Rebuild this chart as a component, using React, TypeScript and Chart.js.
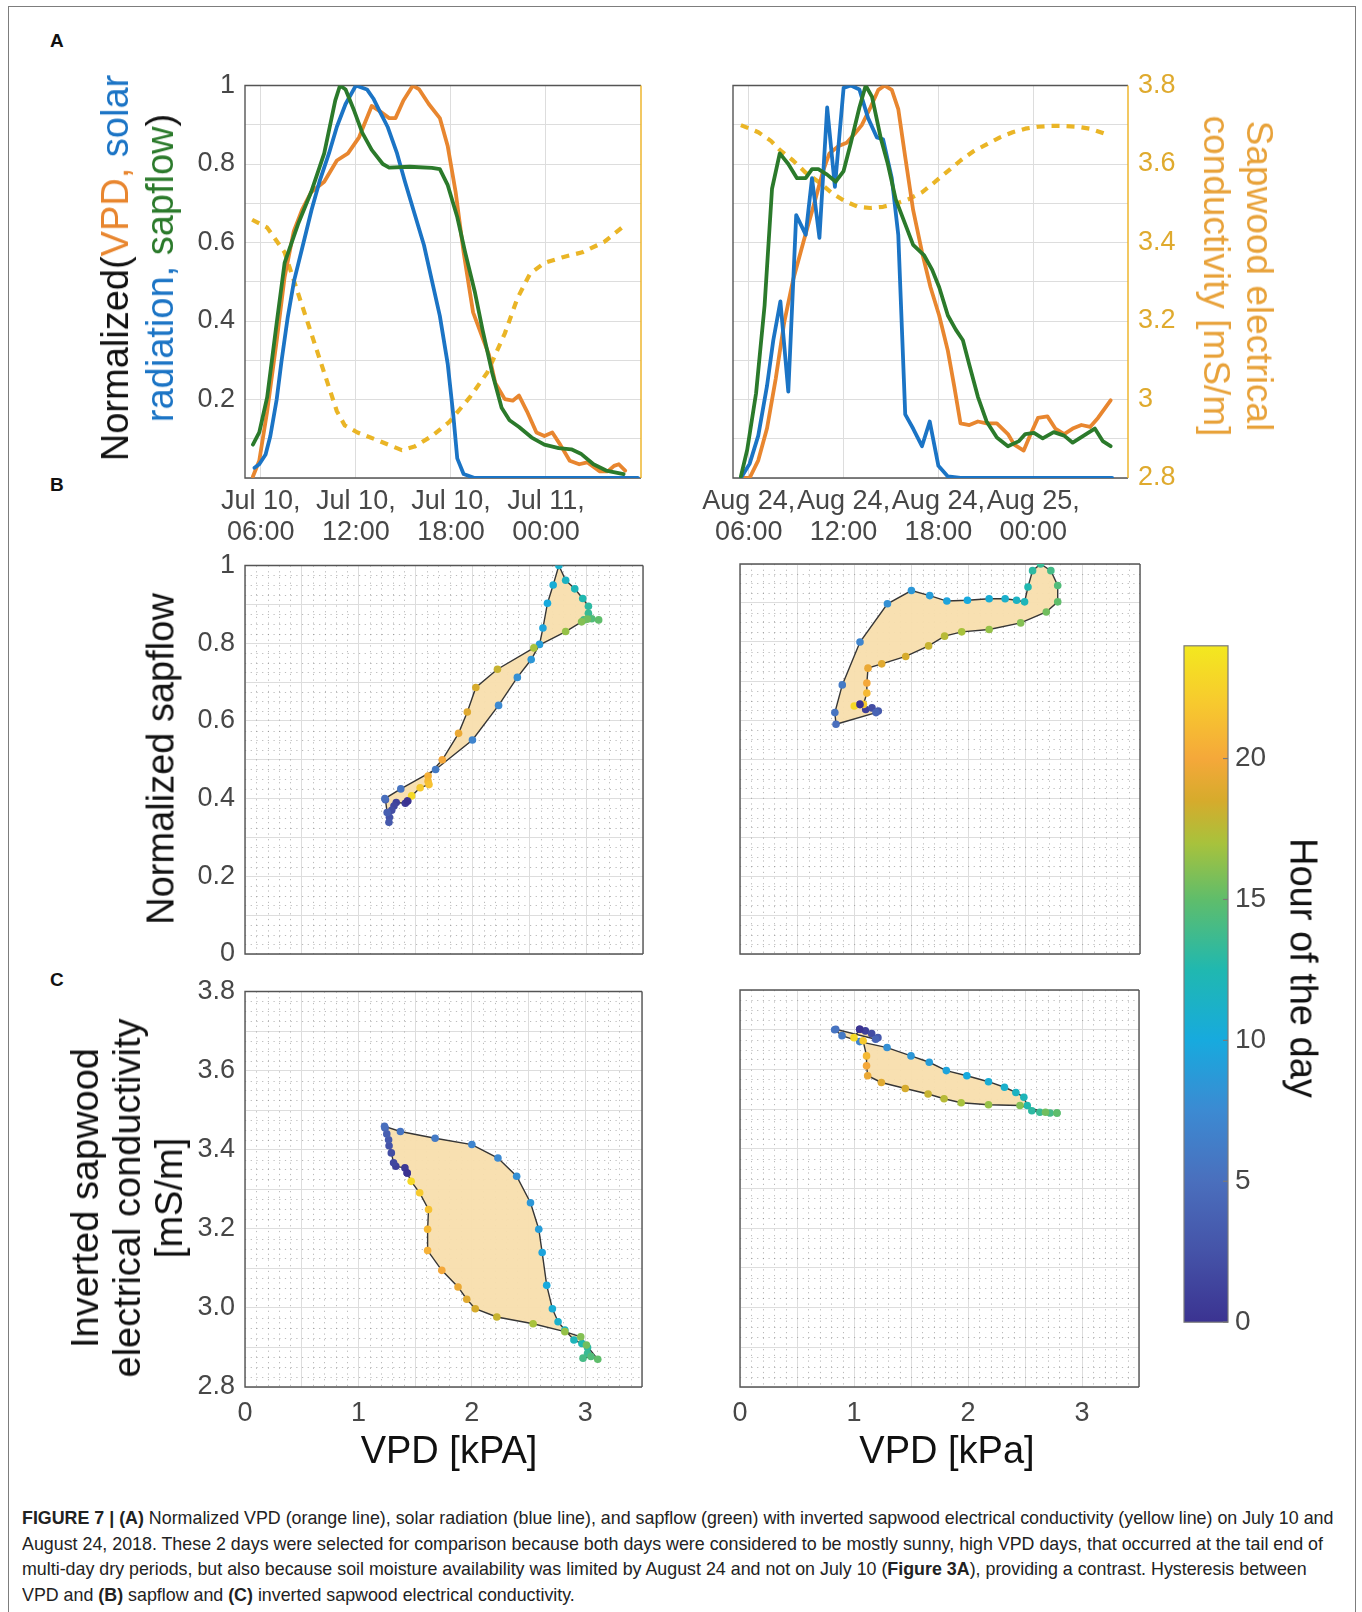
import React, { useEffect, useLayoutEffect, useRef, useState } from 'react';
import { Chart, registerables } from 'chart.js';

Chart.register(...registerables);

const FONT = '"Liberation Sans", Arial, Helvetica, sans-serif';
Chart.defaults.font.family = FONT;

// ---------------- Panel A: time axis (hours from Jul 10 / Aug 24 00:00) ----------------
const timeMin = 5;
const timeMax = 30;
const timeTicks = [6, 12, 18, 24];
const julTickLabels = [["Jul 10,", "06:00"], ["Jul 10,", "12:00"], ["Jul 10,", "18:00"], ["Jul 11,", "00:00"]];
const augTickLabels = [["Aug 24,", "06:00"], ["Aug 24,", "12:00"], ["Aug 24,", "18:00"], ["Aug 25,", "00:00"]];
const normTicks = [0, 0.1, 0.2, 0.3, 0.4, 0.5, 0.6, 0.7, 0.8, 0.9, 1];
const normTickLabelsA = ['', '', '0.2', '', '0.4', '', '0.6', '', '0.8', '', '1'];
const condTicks = [2.8, 2.9, 3.0, 3.1, 3.2, 3.3, 3.4, 3.5, 3.6, 3.7, 3.8];
const condTickLabelsA = ['2.8', '', '3', '', '3.2', '', '3.4', '', '3.6', '', '3.8'];

// Jul 10 series
const julBlueT = [5.6, 5.9, 6.3, 6.6, 7.0, 7.3, 7.7, 8.1, 8.6, 9.2, 9.7, 10.3, 10.8, 11.35, 12.0, 12.7, 13.1, 13.5, 14.0, 14.6, 15.1, 15.7, 16.3, 16.8, 17.3, 17.8, 18.15, 18.4, 18.8, 19.5, 29.8];
const julBlueV = [0.026, 0.035, 0.06, 0.107, 0.2, 0.296, 0.41, 0.503, 0.584, 0.683, 0.755, 0.827, 0.895, 0.953, 1.0, 0.99, 0.967, 0.935, 0.895, 0.827, 0.755, 0.674, 0.593, 0.503, 0.413, 0.29, 0.16, 0.05, 0.01, 0, 0];
const julGreenT = [5.5, 5.9, 6.4, 7.0, 7.5, 8.35, 9.17, 10.0, 10.7, 11.0, 11.35, 11.9, 12.4, 13.0, 13.7, 14.1, 15.4, 16.8, 17.3, 17.8, 18.4, 18.9, 19.5, 20.0, 20.6, 21.2, 21.7, 22.3, 23.1, 23.9, 24.8, 25.6, 26.2, 27.0, 27.8, 28.9];
const julGreenV = [0.085, 0.116, 0.206, 0.395, 0.548, 0.647, 0.728, 0.827, 0.962, 1.0, 0.99, 0.935, 0.88, 0.836, 0.8, 0.791, 0.793, 0.79, 0.787, 0.746, 0.665, 0.575, 0.476, 0.377, 0.269, 0.179, 0.147, 0.13, 0.103, 0.085, 0.076, 0.073, 0.062, 0.035, 0.019, 0.01];
const julOrangeT = [5.5, 5.9, 6.4, 7.0, 7.5, 8.08, 8.6, 9.17, 10.0, 10.8, 11.5, 12.2, 13.0, 13.5, 14.1, 14.5, 15.0, 15.6, 16.0, 16.6, 17.3, 17.8, 18.3, 18.8, 19.4, 19.9, 20.4, 20.8, 21.4, 21.9, 22.3, 22.8, 23.4, 23.9, 24.4, 24.9, 25.5, 26.1, 26.6, 27.4, 27.9, 28.3, 28.6, 29.0];
const julOrangeV = [0.004, 0.044, 0.17, 0.35, 0.512, 0.629, 0.683, 0.728, 0.755, 0.809, 0.827, 0.868, 0.948, 0.935, 0.917, 0.917, 0.962, 1.0, 0.99, 0.953, 0.917, 0.845, 0.728, 0.575, 0.422, 0.368, 0.314, 0.242, 0.201, 0.197, 0.21, 0.17, 0.116, 0.107, 0.116, 0.085, 0.044, 0.035, 0.04, 0.017, 0.017, 0.031, 0.035, 0.019];
const julYellowT = [5.45, 6.4, 7.5, 8.6, 9.7, 10.8, 11.3, 12.1, 13.5, 14.9, 15.7, 16.8, 17.9, 19.2, 20.3, 21.4, 22.2, 23.0, 23.9, 25.0, 26.3, 27.7, 28.8];
const julYellowV = [3.458, 3.438, 3.375, 3.24, 3.105, 2.97, 2.934, 2.916, 2.894, 2.871, 2.88, 2.907, 2.943, 3.006, 3.069, 3.168, 3.258, 3.321, 3.348, 3.362, 3.375, 3.402, 3.438];

// Aug 24 series
const augBlueT = [5.5, 6.05, 6.6, 7.15, 7.55, 8.0, 8.5, 9.0, 9.6, 10.0, 10.47, 10.96, 11.45, 12.0, 12.46, 13.0, 13.55, 14.1, 14.5, 15.05, 15.46, 15.9, 16.4, 16.96, 17.45, 18.0, 18.6, 19.4, 24, 29.0];
const augBlueV = [0, 0.036, 0.108, 0.234, 0.351, 0.45, 0.22, 0.67, 0.62, 0.764, 0.612, 0.944, 0.742, 0.994, 1.0, 0.99, 0.917, 0.868, 0.863, 0.764, 0.62, 0.162, 0.126, 0.081, 0.144, 0.031, 0.004, 0, 0, 0];
const augGreenT = [5.5, 5.9, 6.46, 7.0, 7.47, 7.96, 8.5, 9.05, 9.6, 10.0, 10.4, 10.96, 11.5, 12.0, 12.46, 13.0, 13.4, 13.8, 14.37, 14.8, 15.3, 15.9, 16.4, 17.1, 17.6, 18.05, 18.6, 19.1, 19.55, 19.96, 20.5, 21.05, 21.7, 22.4, 23.1, 23.5, 24.05, 24.6, 25.3, 25.96, 26.5, 27.2, 27.9, 28.4, 28.9];
const augGreenV = [0.004, 0.072, 0.216, 0.44, 0.737, 0.827, 0.80, 0.764, 0.764, 0.787, 0.787, 0.773, 0.755, 0.782, 0.854, 0.944, 1.0, 0.971, 0.863, 0.80, 0.71, 0.647, 0.594, 0.567, 0.531, 0.486, 0.414, 0.378, 0.351, 0.288, 0.207, 0.144, 0.103, 0.081, 0.094, 0.112, 0.115, 0.101, 0.117, 0.108, 0.09, 0.108, 0.126, 0.094, 0.081];
const augOrangeT = [5.6, 6.05, 6.6, 7.15, 7.7, 8.24, 8.8, 9.46, 10.15, 10.7, 11.1, 11.65, 12.2, 12.7, 13.15, 13.7, 14.2, 14.6, 15.05, 15.46, 15.9, 16.4, 16.96, 17.5, 18.05, 18.6, 19.0, 19.4, 19.96, 20.5, 21.05, 21.7, 22.4, 22.8, 23.4, 23.8, 24.3, 24.9, 25.4, 25.96, 26.5, 27.05, 27.6, 28.1, 28.9];
const augOrangeV = [0, 0, 0.045, 0.126, 0.252, 0.396, 0.504, 0.602, 0.701, 0.782, 0.827, 0.845, 0.854, 0.877, 0.899, 0.944, 0.989, 1.0, 0.989, 0.94, 0.818, 0.683, 0.576, 0.486, 0.414, 0.324, 0.234, 0.139, 0.135, 0.144, 0.139, 0.139, 0.112, 0.085, 0.07, 0.108, 0.153, 0.157, 0.126, 0.112, 0.126, 0.135, 0.13, 0.153, 0.198];
const augYellowT = [5.5, 6.6, 7.4, 7.96, 8.8, 9.6, 10.4, 11.2, 12.05, 12.9, 13.7, 14.5, 15.3, 16.1, 16.96, 17.8, 18.6, 19.4, 20.2, 21.05, 21.9, 22.7, 23.5, 24.3, 25.1, 25.96, 26.8, 27.6, 28.55];
const augYellowV = [3.699, 3.681, 3.659, 3.636, 3.609, 3.578, 3.555, 3.528, 3.506, 3.491, 3.488, 3.491, 3.499, 3.51, 3.528, 3.555, 3.582, 3.609, 3.632, 3.65, 3.668, 3.681, 3.69, 3.695, 3.697, 3.697, 3.695, 3.69, 3.677];

// ---------------- Panels B & C: hysteresis loops ----------------
const vpdTicks = [0, 0.5, 1, 1.5, 2, 2.5, 3, 3.5];
const vpdTickLabels = ['0', '', '1', '', '2', '', '3', ''];
const sapTickLabels = ['0', '', '0.2', '', '0.4', '', '0.6', '', '0.8', '', '1'];
const condTickLabelsC = ['2.8', '', '3.0', '', '3.2', '', '3.4', '', '3.6', '', '3.8'];

const julLoopHour = [0, 0.5, 1, 1.5, 2, 2.5, 3, 3.5, 4, 5, 5.5, 6, 7, 7.5, 8, 8.5, 9, 9.5, 10, 10.5, 11, 11.5, 12, 12.5, 13, 13.5, 14, 14.5, 15, 15.5, 16, 16.5, 17, 18, 18.5, 19, 19.5, 20, 20.5, 21, 21.5, 22, 23];
const julLoopVpd = [1.43, 1.41, 1.33, 1.31, 1.29, 1.27, 1.266, 1.25, 1.235, 1.23, 1.37, 1.676, 2.0, 2.23, 2.395, 2.517, 2.59, 2.62, 2.66, 2.71, 2.76, 2.82, 2.90, 2.97, 3.02, 3.02, 2.98, 3.05, 3.11, 3.01, 2.96, 2.82, 2.54, 2.22, 2.03, 1.955, 1.878, 1.735, 1.61, 1.61, 1.618, 1.54, 1.465];
const julLoopSap = [0.394, 0.388, 0.39, 0.381, 0.37, 0.352, 0.339, 0.364, 0.397, 0.40, 0.425, 0.475, 0.551, 0.64, 0.712, 0.758, 0.797, 0.839, 0.903, 0.95, 1.0, 0.962, 0.94, 0.915, 0.895, 0.877, 0.86, 0.863, 0.86, 0.862, 0.855, 0.83, 0.788, 0.733, 0.686, 0.623, 0.568, 0.5, 0.458, 0.445, 0.436, 0.428, 0.407];
const julLoopCond = [3.341, 3.354, 3.358, 3.367, 3.392, 3.41, 3.425, 3.44, 3.455, 3.459, 3.446, 3.429, 3.413, 3.379, 3.333, 3.266, 3.199, 3.14, 3.057, 2.998, 2.965, 2.944, 2.919, 2.91, 2.9, 2.885, 2.873, 2.877, 2.87, 2.906, 2.927, 2.94, 2.96, 2.977, 2.998, 3.022, 3.053, 3.095, 3.145, 3.199, 3.249, 3.291, 3.32];

const augLoopHour = [0, 1, 2, 3, 4, 5, 5.5, 6, 7, 8, 8.5, 9, 9.5, 10, 10.5, 11, 11.5, 12, 12.5, 13, 13.5, 14, 14.5, 15, 15.5, 16, 16.5, 17, 17.5, 18, 18.5, 19, 19.5, 20, 21, 22, 23];
const augLoopVpd = [1.05, 1.10, 1.155, 1.21, 1.19, 0.84, 0.83, 0.895, 1.05, 1.29, 1.5, 1.66, 1.81, 1.99, 2.18, 2.32, 2.42, 2.49, 2.52, 2.56, 2.63, 2.72, 2.78, 2.78, 2.68, 2.456, 2.18, 1.94, 1.79, 1.65, 1.45, 1.24, 1.12, 1.11, 1.11, 1.08, 1.0];
const augLoopSap = [0.64, 0.627, 0.631, 0.623, 0.619, 0.589, 0.619, 0.69, 0.8, 0.898, 0.932, 0.919, 0.905, 0.907, 0.911, 0.911, 0.907, 0.903, 0.941, 0.983, 1.0, 0.983, 0.945, 0.903, 0.877, 0.849, 0.832, 0.826, 0.815, 0.79, 0.763, 0.744, 0.733, 0.695, 0.669, 0.64, 0.636];
const augLoopCond = [3.701, 3.697, 3.69, 3.68, 3.676, 3.701, 3.70, 3.685, 3.67, 3.655, 3.634, 3.618, 3.597, 3.584, 3.569, 3.555, 3.542, 3.53, 3.509, 3.496, 3.492, 3.49, 3.49, 3.49, 3.492, 3.509, 3.511, 3.516, 3.526, 3.538, 3.552, 3.567, 3.584, 3.609, 3.634, 3.672, 3.68];

// colour bar
const hourMax = 24;
const colorbarTicks = [0, 5, 10, 15, 20];
const colorbarTickLabels = ['0', '5', '10', '15', '20'];

// ---------------- styles ----------------
const GRID = '#dddddd';
const AXIS = '#555555';
const TICK = '#474747';
const GOLD = '#EDB120';
const GOLD_TEXT = '#DFAA2E';
const BLUE = '#1b74c5';
const ORANGE = '#e8862f';
const GREEN = '#2b7a2b';
const YELLOW = '#eab526';
const LOOP_FILL = 'rgba(248, 223, 174, 0.96)';
const PARULA: [number, string][] = [
  [0, '#3b3391'], [2.5, '#4553a8'], [5, '#4a6fbd'], [7.5, '#3c8ad2'], [10, '#17aade'],
  [12.5, '#20b8b0'], [15, '#5fbd6b'], [17, '#a8c23c'], [18.5, '#d6ab2c'], [20, '#f5a83a'],
  [22, '#f7ca2e'], [24, '#f3e81f'],
];

function hex2rgb(h: string) {
  return [parseInt(h.slice(1, 3), 16), parseInt(h.slice(3, 5), 16), parseInt(h.slice(5, 7), 16)];
}
function hourColor(h: number) {
  for (let i = 0; i < PARULA.length - 1; i++) {
    const [h0, c0] = PARULA[i];
    const [h1, c1] = PARULA[i + 1];
    if (h <= h1) {
      const f = Math.max(0, Math.min(1, (h - h0) / (h1 - h0)));
      const a = hex2rgb(c0), b = hex2rgb(c1);
      return `rgb(${a.map((v, k) => Math.round(v + (b[k] - v) * f)).join(',')})`;
    }
  }
  return PARULA[PARULA.length - 1][1];
}

const tickFont = { family: FONT, size: 27, lineHeight: 1.15 };

function framePlugin(rightColor: string) {
  return {
    id: 'frameBox',
    beforeDatasetsDraw(chart: any) {
      const { ctx, chartArea: a } = chart;
      ctx.save();
      ctx.lineWidth = 1.4;
      ctx.strokeStyle = AXIS;
      ctx.beginPath();
      ctx.moveTo(a.right, a.top);
      ctx.lineTo(a.left, a.top);
      ctx.lineTo(a.left, a.bottom);
      ctx.lineTo(a.right, a.bottom);
      ctx.stroke();
      ctx.strokeStyle = rightColor;
      ctx.beginPath();
      ctx.moveTo(a.right, a.top);
      ctx.lineTo(a.right, a.bottom);
      ctx.stroke();
      ctx.restore();
    },
  };
}

function minorGridPlugin(yMin: number, yMax: number) {
  return {
    id: 'minorGrid',
    beforeDatasetsDraw(chart: any) {
      const { ctx, chartArea: a, scales } = chart;
      ctx.save();
      ctx.strokeStyle = 'rgba(120,120,120,0.5)';
      ctx.lineWidth = 1;
      ctx.setLineDash([1.2, 4.5]);
      for (let i = 1; i < 35; i++) {
        if (i % 5 === 0) continue;
        const px = Math.round(scales.x.getPixelForValue(i / 10)) + 0.5;
        ctx.beginPath();
        ctx.moveTo(px, a.top);
        ctx.lineTo(px, a.bottom);
        ctx.stroke();
      }
      const n = Math.round((yMax - yMin) / 0.025);
      for (let i = 1; i < n; i++) {
        if (i % 4 === 0) continue;
        const py = Math.round(scales.y.getPixelForValue(yMin + i * 0.025)) + 0.5;
        ctx.beginPath();
        ctx.moveTo(a.left, py);
        ctx.lineTo(a.right, py);
        ctx.stroke();
      }
      ctx.restore();
    },
  };
}

type Series = { t: number[]; v: number[]; color: string; axis: 'y' | 'y2'; width: number; dash?: number[] };

function timeConfig(series: Series[], tickLabels: string[][], showLeft: boolean, showRight: boolean, yW: number, y2W: number, pad: any) {
  return {
    type: 'line',
    data: {
      datasets: series.map((s) => ({
        data: s.t.map((t, i) => ({ x: t, y: s.v[i] })),
        borderColor: s.color,
        borderWidth: s.width,
        borderDash: s.dash || [],
        borderCapStyle: s.dash ? 'butt' : 'round',
        borderJoinStyle: 'round',
        pointRadius: 0,
        fill: false,
        tension: 0,
        yAxisID: s.axis,
      })),
    },
    options: {
      animation: false,
      responsive: false,
      events: [],
      layout: { padding: pad },
      plugins: { legend: { display: false }, tooltip: { enabled: false } },
      scales: {
        x: {
          type: 'linear',
          min: timeMin,
          max: timeMax,
          afterBuildTicks: (s: any) => { s.ticks = timeTicks.map((v) => ({ value: v })); },
          afterFit: (s: any) => { s.height = 80; },
          grid: { color: GRID, drawTicks: false },
          border: { display: false },
          ticks: { font: tickFont, color: TICK, padding: 8, maxRotation: 0, autoSkip: false, callback: (_v: any, i: number) => tickLabels[i] },
        },
        y: {
          type: 'linear',
          position: 'left',
          min: 0,
          max: 1,
          afterBuildTicks: (s: any) => { s.ticks = normTicks.map((v) => ({ value: v })); },
          afterFit: (s: any) => { s.width = yW; },
          grid: { color: GRID, drawTicks: false },
          border: { display: false },
          ticks: { display: showLeft, font: tickFont, color: TICK, padding: 10, callback: (_v: any, i: number) => normTickLabelsA[i] },
        },
        y2: {
          type: 'linear',
          position: 'right',
          min: 2.8,
          max: 3.8,
          afterBuildTicks: (s: any) => { s.ticks = condTicks.map((v) => ({ value: v })); },
          afterFit: (s: any) => { s.width = y2W; },
          grid: { display: false, drawTicks: false },
          border: { display: false },
          ticks: { display: showRight, font: tickFont, color: GOLD_TEXT, padding: 10, callback: (_v: any, i: number) => condTickLabelsA[i] },
        },
      },
    },
    plugins: [framePlugin(GOLD)],
  };
}

function loopConfig(vpd: number[], yv: number[], hours: number[], yMin: number, yMax: number, yTicks: number[], yLabels: string[], showY: boolean, showX: boolean, yW: number, xH: number, pad: any) {
  const pts = vpd.map((v, i) => ({ x: v, y: yv[i] }));
  pts.push(pts[0]);
  const cols = hours.map(hourColor);
  cols.push(cols[0]);
  return {
    type: 'line',
    data: {
      datasets: [{
        data: pts,
        borderColor: '#363636',
        borderWidth: 1.4,
        backgroundColor: LOOP_FILL,
        fill: 'shape',
        tension: 0,
        pointRadius: 3.8,
        pointBorderWidth: 0,
        pointBackgroundColor: cols,
        pointBorderColor: cols,
      }],
    },
    options: {
      animation: false,
      responsive: false,
      events: [],
      layout: { padding: pad },
      plugins: { legend: { display: false }, tooltip: { enabled: false } },
      scales: {
        x: {
          type: 'linear',
          min: 0,
          max: 3.5,
          afterBuildTicks: (s: any) => { s.ticks = vpdTicks.map((v) => ({ value: v })); },
          afterFit: (s: any) => { s.height = xH; },
          grid: { color: GRID, drawTicks: false },
          border: { display: false },
          ticks: { display: showX, font: tickFont, color: TICK, padding: 11, maxRotation: 0, autoSkip: false, callback: (_v: any, i: number) => vpdTickLabels[i] },
        },
        y: {
          type: 'linear',
          position: 'left',
          min: yMin,
          max: yMax,
          afterBuildTicks: (s: any) => { s.ticks = yTicks.map((v) => ({ value: v })); },
          afterFit: (s: any) => { s.width = yW; },
          grid: { color: GRID, drawTicks: false },
          border: { display: false },
          ticks: { display: showY, font: tickFont, color: TICK, padding: 10, autoSkip: false, callback: (_v: any, i: number) => yLabels[i] },
        },
      },
    },
    plugins: [minorGridPlugin(yMin, yMax), framePlugin(AXIS)],
  };
}

function colorbarConfig() {
  return {
    type: 'bar',
    data: {
      labels: ['hour'],
      datasets: [{
        data: [hourMax],
        barPercentage: 1,
        categoryPercentage: 1,
        borderWidth: 0,
        backgroundColor: (c: any) => {
          const area = c.chart.chartArea;
          if (!area) return '#888';
          const g = c.chart.ctx.createLinearGradient(0, area.bottom, 0, area.top);
          PARULA.forEach(([h, col]) => g.addColorStop(h / hourMax, col));
          return g;
        },
      }],
    },
    options: {
      animation: false,
      responsive: false,
      events: [],
      layout: { padding: { left: 8, top: 20, bottom: 20, right: 0 } },
      plugins: { legend: { display: false }, tooltip: { enabled: false } },
      scales: {
        x: { display: false },
        y: {
          position: 'right',
          min: 0,
          max: hourMax,
          afterBuildTicks: (s: any) => { s.ticks = colorbarTicks.map((v) => ({ value: v })); },
          afterFit: (s: any) => { s.width = 62; },
          grid: { display: false, drawTicks: false },
          border: { display: false },
          ticks: { font: { family: FONT, size: 28 }, color: TICK, padding: 7, callback: (_v: any, i: number) => colorbarTickLabels[i] },
        },
      },
    },
    plugins: [{
      id: 'cbOutline',
      afterDatasetsDraw(chart: any) {
        const { ctx, chartArea: a, scales } = chart;
        ctx.save();
        ctx.strokeStyle = '#7a7a7a';
        ctx.lineWidth = 1.2;
        ctx.strokeRect(a.left, a.top, a.right - a.left, a.bottom - a.top);
        colorbarTicks.forEach((v) => {
          const py = scales.y.getPixelForValue(v);
          ctx.beginPath();
          ctx.moveTo(a.right, py);
          ctx.lineTo(a.right - 5, py);
          ctx.stroke();
        });
        ctx.restore();
      },
    }],
  };
}

function ChartCanvas({ x, y, w, h, make }: { x: number; y: number; w: number; h: number; make: () => any }) {
  const ref = useRef<HTMLCanvasElement>(null);
  useEffect(() => {
    const chart = new Chart(ref.current as HTMLCanvasElement, make());
    return () => chart.destroy();
  }, []);
  return <canvas ref={ref} width={w} height={h} style={{ position: 'absolute', left: x, top: y, width: w, height: h }} />;
}

function RotText({ cx, cy, deg, size, lh, color, children }: any) {
  return (
    <div style={{
      position: 'absolute', left: cx, top: cy, transform: `translate(-50%, -50%) rotate(${deg}deg)`,
      whiteSpace: 'nowrap', textAlign: 'center', fontSize: size, lineHeight: `${lh}px`, color: color || '#111',
    }}>{children}</div>
  );
}

function Caption() {
  const ref = useRef<HTMLSpanElement>(null);
  const [k, setK] = useState(1);
  useLayoutEffect(() => {
    if (ref.current) setK(1311 / ref.current.offsetWidth);
  }, []);
  const lines = [
    <><b>FIGURE 7 | (A)</b> Normalized VPD (orange line), solar radiation (blue line), and sapflow (green) with inverted sapwood electrical conductivity (yellow line) on July 10 and</>,
    <>August 24, 2018. These 2 days were selected for comparison because both days were considered to be mostly sunny, high VPD days, that occurred at the tail end of</>,
    <>multi-day dry periods, but also because soil moisture availability was limited by August 24 and not on July 10 (<b>Figure 3A</b>), providing a contrast. Hysteresis between</>,
    <>VPD and <b>(B)</b> sapflow and <b>(C)</b> inverted sapwood electrical conductivity.</>,
  ];
  return (
    <div style={{ position: 'absolute', left: 22, top: 1505, fontSize: 18.5, lineHeight: '25.5px', color: '#222' }}>
      {lines.map((l, i) => (
        <div key={i} style={{ whiteSpace: 'nowrap', height: 25.5 }}>
          <span ref={i === 0 ? ref : undefined} style={{ display: 'inline-block', transformOrigin: '0 0', transform: `scaleX(${k})` }}>{l}</span>
        </div>
      ))}
    </div>
  );
}

export default function App() {
  const julSeries: Series[] = [
    { t: julGreenT, v: julGreenV, color: GREEN, axis: 'y', width: 3.8 },
    { t: julBlueT, v: julBlueV, color: BLUE, axis: 'y', width: 3.8 },
    { t: julOrangeT, v: julOrangeV, color: ORANGE, axis: 'y', width: 3.8 },
    { t: julYellowT, v: julYellowV, color: YELLOW, axis: 'y2', width: 4.2, dash: [8, 7] },
  ];
  const augSeries: Series[] = [
    { t: augGreenT, v: augGreenV, color: GREEN, axis: 'y', width: 3.8 },
    { t: augBlueT, v: augBlueV, color: BLUE, axis: 'y', width: 3.8 },
    { t: augOrangeT, v: augOrangeV, color: ORANGE, axis: 'y', width: 3.8 },
    { t: augYellowT, v: augYellowV, color: YELLOW, axis: 'y2', width: 4.2, dash: [8, 7] },
  ];
  const letter = { position: 'absolute' as const, fontWeight: 700, fontSize: 19, color: '#111' };
  return (
    <div style={{ position: 'absolute', left: 0, top: 0, width: 1362, height: 1612, background: '#fff', overflow: 'hidden', fontFamily: FONT }}>
      <div style={{ position: 'absolute', left: 8, top: 6, width: 1346, height: 1650, border: '1.5px solid #7d7d7d' }} />
      <div style={{ ...letter, left: 50, top: 30 }}>A</div>
      <div style={{ ...letter, left: 50, top: 474 }}>B</div>
      <div style={{ ...letter, left: 50, top: 969 }}>C</div>

      {/* Panel A */}
      <ChartCanvas x={160} y={60} w={501} h={498} make={() => timeConfig(julSeries, julTickLabels, true, false, 85, 12, { left: 0, right: 8, top: 21, bottom: 0 })} />
      <ChartCanvas x={660} y={60} w={548} h={498} make={() => timeConfig(augSeries, augTickLabels, false, true, 73, 75, { left: 0, right: 5, top: 21, bottom: 0 })} />

      {/* Panel B */}
      <ChartCanvas x={160} y={540} w={493} h={444} make={() => loopConfig(julLoopVpd, julLoopSap, julLoopHour, 0, 1, normTicks, sapTickLabels, true, false, 85, 30, { left: 0, right: 10, top: 24, bottom: 0 })} />
      <ChartCanvas x={715} y={540} w={435} h={444} make={() => loopConfig(augLoopVpd, augLoopSap, augLoopHour, 0, 1, normTicks, sapTickLabels, false, false, 25, 30, { left: 0, right: 10, top: 24, bottom: 0 })} />

      {/* Panel C */}
      <ChartCanvas x={160} y={966} w={493} h={471} make={() => loopConfig(julLoopVpd, julLoopCond, julLoopHour, 2.8, 3.8, condTicks, condTickLabelsC, true, true, 85, 50, { left: 0, right: 10, top: 24, bottom: 0 })} />
      <ChartCanvas x={715} y={966} w={435} h={471} make={() => loopConfig(augLoopVpd, augLoopCond, augLoopHour, 2.8, 3.8, condTicks, condTickLabelsC, false, true, 25, 50, { left: 0, right: 10, top: 24, bottom: 0 })} />

      {/* Colour bar */}
      <ChartCanvas x={1176} y={622} w={114} h={724} make={colorbarConfig} />

      {/* Axis titles */}
      <RotText cx={138} cy={268} deg={-90} size={38} lh={45}>
        <div><span style={{ color: '#111' }}>Normalized(</span><span style={{ color: ORANGE }}>VPD, </span><span style={{ color: BLUE }}>solar</span></div>
        <div><span style={{ color: BLUE }}>radiation, </span><span style={{ color: GREEN }}>sapflow</span><span style={{ color: '#111' }}>)</span></div>
      </RotText>
      <RotText cx={1238} cy={276} deg={90} size={37} lh={43} color="#E8A23A">
        <div>Sapwood electrical</div>
        <div>conductivity [mS/m]</div>
      </RotText>
      <RotText cx={161} cy={759} deg={-90} size={38} lh={45}>Normalized sapflow</RotText>
      <RotText cx={127} cy={1198} deg={-90} size={38} lh={42}>
        <div>Inverted sapwood</div>
        <div>electrical conductivity</div>
        <div>[mS/m]</div>
      </RotText>
      <RotText cx={1303} cy={968} deg={90} size={38} lh={45}>Hour of the day</RotText>
      <RotText cx={449} cy={1450} deg={0} size={38} lh={45}>VPD [kPA]</RotText>
      <RotText cx={947} cy={1450} deg={0} size={38} lh={45}>VPD [kPa]</RotText>

      <Caption />
    </div>
  );
}
